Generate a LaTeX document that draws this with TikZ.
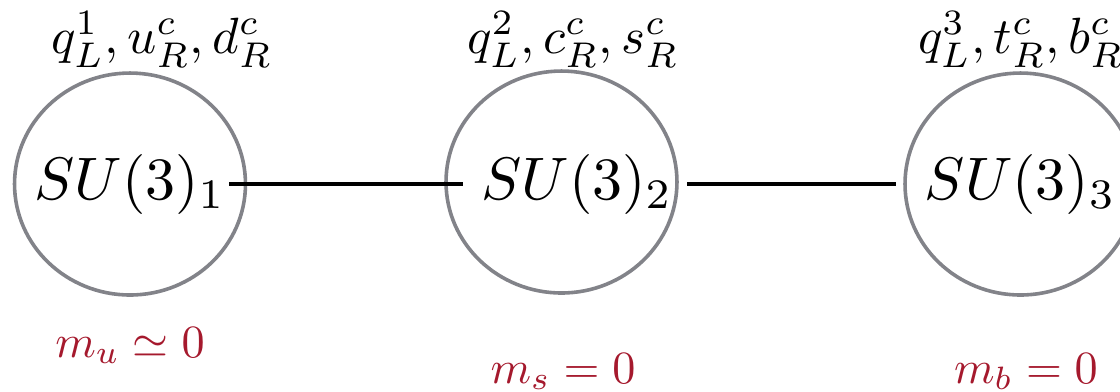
\documentclass[tikz,border=0pt]{standalone}
\usepackage{amsmath}
\usepackage{tikz}
\usetikzlibrary{shapes.geometric,calc}
\definecolor{ringgray}{RGB}{130,131,137}
\definecolor{massred}{RGB}{165,25,45}
\tikzstyle{group} = [draw=ringgray, line width=0.6pt, ellipse, minimum width=38.5pt, minimum height=37pt, inner sep=0pt]
\tikzstyle{gname} = [inner sep=0pt]
\tikzstyle{fields} = [anchor=base, inner sep=0pt, scale=0.85, transform shape]
\tikzstyle{mass} = [anchor=base, inner sep=0pt, text=massred, scale=0.77, transform shape]

\begin{document}
\begin{tikzpicture}[x=0.1667pt, y=-0.1667pt]
  \useasboundingbox (0,0) rectangle (1120,391);
  % gauge groups
  \node [group] (c1) at (130,184) {};
  \node [group] (c2) at (561.5,182) {};
  \node [group] (c3) at (1020.5,184) {};
  \node [gname] (s1) at (c1) {$SU(3)_1$};
  \node [gname] (s2) at ($(c2)+(15.5,2)$) {$SU(3)_2$};
  \node [gname] (s3) at (c3) {$SU(3)_3$};

  % fields on each site
  \node [fields] (f1) at ($(c1)+(32,-131)$) {$q_L^1, u_R^c, d_R^c$};
  \node [fields] (f2) at ($(c2)+(11.5,-129)$) {$q_L^2, c_R^c, s_R^c$};
  \node [fields] (f3) at ($(c3)+(0.5,-131)$) {$q_L^3, t_R^c, b_R^c$};

  % masses
  \node [mass] (m1) at ($(c1)+(0,173)$) {$m_u \simeq 0$};
  \node [mass] (m2) at ($(c2)+(1.5,201)$) {$m_s = 0$};
  \node [mass] (m3) at ($(c3)+(5.5,199)$) {$m_b = 0$};

  \draw [line width=0.7pt] ($(s1)+(99,0)$) -- ($(s2)+(-114,0)$);
  \draw [line width=0.7pt] ($(s2)+(110,0)$) -- ($(s3)+(-125,0)$);
\end{tikzpicture}
\end{document}
